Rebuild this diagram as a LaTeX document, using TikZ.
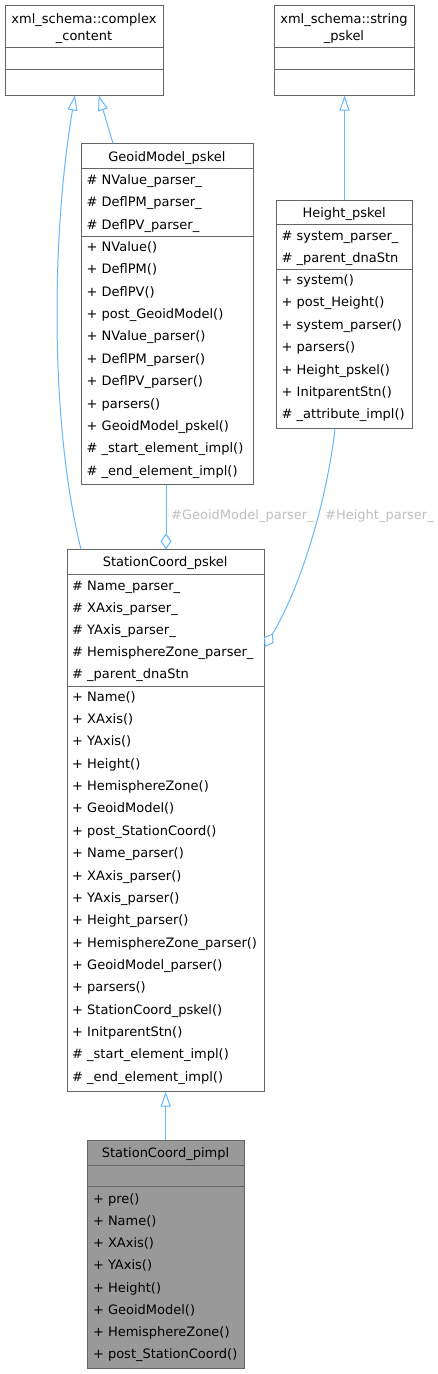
\documentclass[tikz,border=0pt]{standalone}
\usepackage{fontspec}
\setmainfont{DejaVu Sans}
\usetikzlibrary{arrows.meta,calc}
\definecolor{edgeblue}{HTML}{63B8FF}
\definecolor{boxline}{HTML}{666666}
\definecolor{pimplfill}{HTML}{999999}
\definecolor{labelgrey}{HTML}{C0C0C0}
\tikzset{
  classbox/.style={draw=boxline, line width=1pt, fill=white, inner sep=0pt, anchor=north west},
  rowtext/.style={inner sep=0pt, anchor=base west, font=\fontsize{13}{15}\selectfont},
  ttltext/.style={inner sep=0pt, anchor=base, font=\fontsize{13}{15}\selectfont},
  divider/.style={draw=boxline, line width=1pt},
  inherit/.style={draw=edgeblue, line width=1pt, -{Triangle[open, length=15pt, width=10pt, fill=white]}},
  aggr/.style={draw=edgeblue, line width=1pt, -{Diamond[open, length=16pt, width=11pt, fill=white]}},
  elabel/.style={text=labelgrey, inner sep=0pt, anchor=west, font=\fontsize{13}{15}\selectfont},
}
\begin{document}
\begin{tikzpicture}[x=1pt,y=-1pt]
\useasboundingbox[fill=white] (0,0) rectangle (438,1374);

% ---- xml_schema::complex_content
\node[classbox, minimum width=158pt, minimum height=89.5pt] (cc) at (5,5) {};
\node[ttltext] (cc-t1) at (84,23.5) {xml\_schema::complex};
\node[ttltext] (cc-t2) at (84,40) {\_content};
\draw[divider] (5,47.3) -- (163,47.3);
\draw[divider] (5,69.7) -- (163,69.7);

% ---- xml_schema::string_pskel
\node[classbox, minimum width=139.4pt, minimum height=89.5pt] (sp) at (274.3,5) {};
\node[ttltext] (sp-t1) at (344,23.5) {xml\_schema::string};
\node[ttltext] (sp-t2) at (344,40) {\_pskel};
\draw[divider] (274.3,47.3) -- (413.7,47.3);
\draw[divider] (274.3,69.7) -- (413.7,69.7);

% ---- GeoidModel_pskel
\node[classbox, minimum width=171.7pt, minimum height=340.4pt] (gm) at (81,143.3) {};
\node[ttltext] (gm-t) at (166.85,161.8) {GeoidModel\_pskel};
\draw[divider] (81,168.7) -- (252.7,168.7);
\draw[divider] (81,236.3) -- (252.7,236.3);
\foreach \t [count=\i from 0] in {\# NValue\_parser\_, \# DeflPM\_parser\_, \# DeflPV\_parser\_}
  \node[rowtext] (gm-a\i) at (86.5,{184.5+22.3*\i}) {\t};
\foreach \t [count=\i from 0] in {+ NValue(), + DeflPM(), + DeflPV(), + post\_GeoidModel(), + NValue\_parser(), + DeflPM\_parser(), + DeflPV\_parser(), + parsers(), + GeoidModel\_pskel(), \# \_start\_element\_impl(), \# \_end\_element\_impl()}
  \node[rowtext] (gm-m\i) at (86.5,{251.3+22.4*\i}) {\t};

% ---- Height_pskel
\node[classbox, minimum width=136.3pt, minimum height=228.3pt] (h) at (276,200) {};
\node[ttltext] (h-t) at (344.15,217.8) {Height\_pskel};
\draw[divider] (276,224.7) -- (412.3,224.7);
\draw[divider] (276,269.3) -- (412.3,269.3);
\foreach \t [count=\i from 0] in {\# system\_parser\_, \# \_parent\_dnaStn}
  \node[rowtext] (h-a\i) at (281.5,{240.5+22.3*\i}) {\t};
\foreach \t [count=\i from 0] in {+ system(), + post\_Height(), + system\_parser(), + parsers(), + Height\_pskel(), + InitparentStn(), \# \_attribute\_impl()}
  \node[rowtext] (h-m\i) at (281.5,{284.5+22.4*\i}) {\t};

% ---- StationCoord_pskel
\node[classbox, minimum width=197pt, minimum height=541.4pt] (sc) at (66.7,549.3) {};
\node[ttltext] (sc-t) at (165.2,566.8) {StationCoord\_pskel};
\draw[divider] (66.7,574.3) -- (263.7,574.3);
\draw[divider] (66.7,686.7) -- (263.7,686.7);
\foreach \t [count=\i from 0] in {\# Name\_parser\_, \# XAxis\_parser\_, \# YAxis\_parser\_, \# HemisphereZone\_parser\_, \# \_parent\_dnaStn}
  \node[rowtext] (sc-a\i) at (72,{590+22.2*\i}) {\t};
\foreach \t [count=\i from 0] in {+ Name(), + XAxis(), + YAxis(), + Height(), + HemisphereZone(), + GeoidModel(), + post\_StationCoord(), + Name\_parser(), + XAxis\_parser(), + YAxis\_parser(), + Height\_parser(), + HemisphereZone\_parser(), + GeoidModel\_parser(), + parsers(), + StationCoord\_pskel(), + InitparentStn(), \# \_start\_element\_impl(), \# \_end\_element\_impl()}
  \node[rowtext] (sc-m\i) at (72,{701.2+22.35*\i}) {\t};

% ---- StationCoord_pimpl
\node[classbox, fill=pimplfill, minimum width=156.4pt, minimum height=228.3pt] (pi) at (87.3,1140) {};
\node[ttltext] (pi-t) at (165.5,1157.8) {StationCoord\_pimpl};
\draw[divider] (87.3,1165) -- (243.7,1165);
\draw[divider] (87.3,1186.7) -- (243.7,1186.7);
\foreach \t [count=\i from 0] in {+ pre(), + Name(), + XAxis(), + YAxis(), + Height(), + GeoidModel(), + HemisphereZone(), + post\_StationCoord()}
  \node[rowtext] (pi-m\i) at (92.8,{1203.2+22.23*\i}) {\t};

% ---- connectors
\coordinate (sc-in1) at ($(sc.north west)+(14.3,0)$);
\coordinate (cc-in1) at ($(cc.south west)+(70,0)$);
\draw[inherit] (sc-in1) .. controls (49,420) and (52,230) .. (cc-in1);

\coordinate (gm-out) at ($(gm.north west)+(32,0)$);
\coordinate (cc-in2) at ($(cc.south west)+(93.7,0)$);
\draw[inherit] (gm-out) -- (cc-in2);

\draw[inherit] (h.north -| sp.south) -- (sp.south);

\draw[inherit] (pi.north -| sc.south) -- (sc.south);

\coordinate (gm-bot) at ($(gm.south west)+(85,0)$);
\draw[aggr] (gm-bot) -- (gm-bot |- sc.north);
\node[elabel] (lbl-gm) at (171,516) {\#GeoidModel\_parser\_};

\coordinate (h-bot) at ($(h.south west)+(59,0)$);
\coordinate (sc-in3) at ($(sc.north east)+(0,97.7)$);
\draw[aggr] (h-bot) .. controls (326,505) and (300,588) .. (sc-in3);
\node[elabel] (lbl-h) at (325,516) {\#Height\_parser\_};
\end{tikzpicture}
\end{document}
